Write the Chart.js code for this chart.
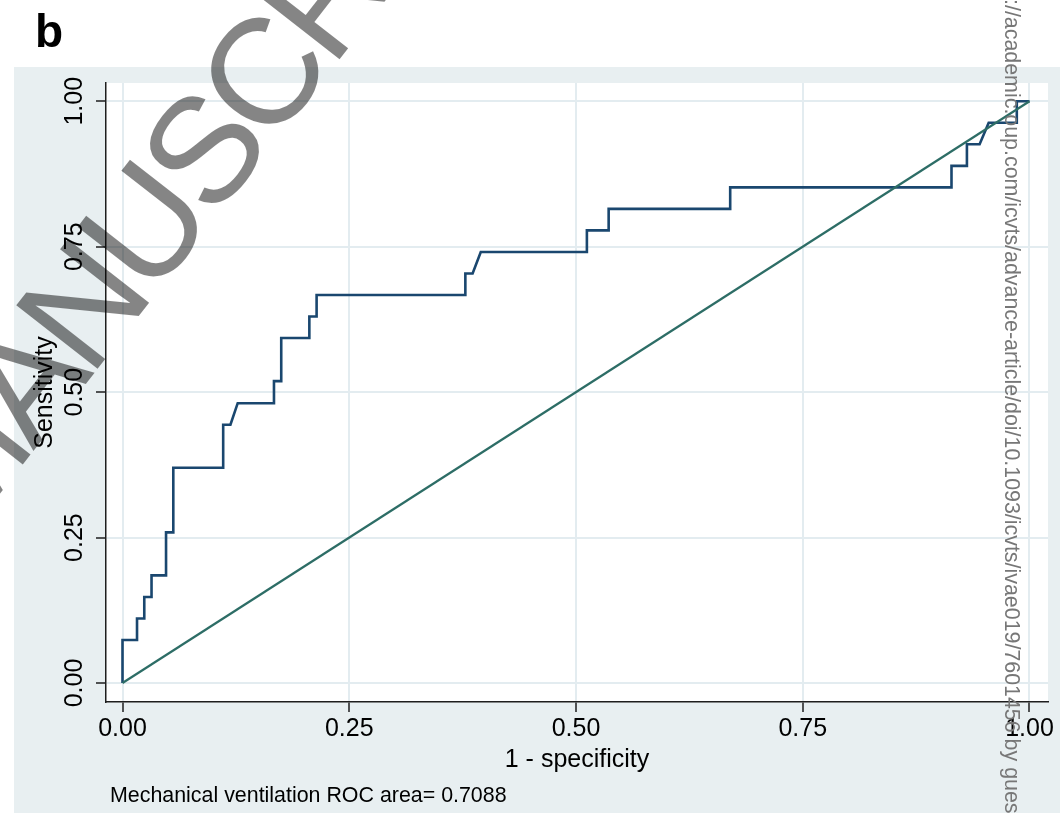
<!DOCTYPE html>
<html>
<head>
<meta charset="utf-8">
<script src="https://cdn.jsdelivr.net/npm/chart.js@4.4.1/dist/chart.umd.min.js"></script>
<style>
  html, body { margin: 0; padding: 0; background: #fff; }
  canvas { display: block; }
</style>
</head>
<body>
<canvas id="roc" width="1060" height="813"></canvas>
<script>
/* ---------- Data ---------- */
const fpr = [0, 0, 0.016, 0.016, 0.024, 0.024, 0.032, 0.032, 0.048, 0.048, 0.056, 0.056,
    0.111, 0.111, 0.119, 0.127, 0.167, 0.167, 0.175, 0.175, 0.206, 0.206, 0.214, 0.214,
    0.378, 0.378, 0.386, 0.395, 0.512, 0.512, 0.536, 0.536, 0.670, 0.670, 0.914, 0.914,
    0.931, 0.931, 0.945, 0.955, 0.986, 0.986, 1];
const sens = [0, 0.074, 0.074, 0.111, 0.111, 0.148, 0.148, 0.185, 0.185, 0.259, 0.259, 0.370,
    0.370, 0.444, 0.444, 0.481, 0.481, 0.519, 0.519, 0.593, 0.593, 0.630, 0.630, 0.667,
    0.667, 0.704, 0.704, 0.741, 0.741, 0.778, 0.778, 0.815, 0.815, 0.852, 0.852, 0.889,
    0.889, 0.926, 0.926, 0.963, 0.963, 1, 1];
const refX = [0, 1];
const refY = [0, 1];
const xTicks = [0, 0.25, 0.5, 0.75, 1];
const yTicks = [0, 0.25, 0.5, 0.75, 1];

const xTitle = '1 - specificity';
const yTitle = 'Sensitivity';
const note = 'Mechanical ventilation ROC area= 0.7088';
const panel = 'b';
const stamp = 'ACCEPTED MANUSCRIPT';
const url = 'Downloaded from https://academic.oup.com/icvts/advance-article/doi/10.1093/icvts/ivae019/7601456 by guest';

const FONT = '"Liberation Sans", Arial, Helvetica, sans-serif';
const GRID = '#e3ecf0';
const AXIS = '#1e1e1e';

/* ---------- Helpers ---------- */
function pairs(xs, ys) {
    return xs.map((x, i) => ({ x: x, y: ys[i] }));
}

/* ---------- Decorations ---------- */
const decor = {
    id: 'decor',
    beforeDraw(chart) {
        const ctx = chart.ctx;
        const a = chart.chartArea;
        ctx.save();
        ctx.fillStyle = '#e8eff1';
        ctx.fillRect(14, 67, chart.width - 14, chart.height - 67);
        ctx.fillStyle = '#ffffff';
        ctx.fillRect(a.left, a.top, a.right - a.left, a.bottom - a.top);
        ctx.restore();
    },
    afterDraw(chart) {
        const ctx = chart.ctx;
        ctx.save();

        // panel letter
        ctx.fillStyle = '#000';
        ctx.font = 'bold 46px ' + FONT;
        ctx.textBaseline = 'alphabetic';
        ctx.textAlign = 'left';
        ctx.fillText(panel, 35, 47);

        // footnote
        ctx.font = '21.4px ' + FONT;
        ctx.fillText(note, 110, 802);

        // side url
        ctx.save();
        ctx.translate(1011, 0);
        ctx.rotate(Math.PI / 2);
        ctx.font = '21.4px ' + FONT;
        ctx.fillStyle = '#777';
        ctx.textBaseline = 'middle';
        const pre = ctx.measureText('Downloaded from https').width;
        ctx.fillText(url, -1 - pre, 0);
        ctx.restore();

        // watermark
        ctx.save();
        const size = 150;
        const gap = -8;
        ctx.font = size + 'px ' + FONT;
        ctx.letterSpacing = gap + 'px';
        ctx.translate(202, 148);
        ctx.rotate(-52 * Math.PI / 180);
        const off = ctx.measureText('ACCEPTED MANU').width + (ctx.measureText('S').width - gap) / 2;
        ctx.fillStyle = 'rgba(0,0,0,0.48)';
        ctx.textBaseline = 'alphabetic';
        ctx.fillText(stamp, -off, 0.716 * size / 2);
        ctx.restore();

        ctx.restore();
    }
};

/* ---------- Chart ---------- */
const axisFont = { family: FONT, size: 25 };

new Chart(document.getElementById('roc').getContext('2d'), {
    type: 'scatter',
    data: {
        datasets: [
            {
                data: pairs(fpr, sens),
                showLine: true,
                borderColor: '#1a476f',
                borderWidth: 2.6,
                pointRadius: 0,
                fill: false,
                order: 1
            },
            {
                data: pairs(refX, refY),
                showLine: true,
                borderColor: '#2d6d66',
                borderWidth: 2.2,
                pointRadius: 0,
                fill: false,
                order: 0
            }
        ]
    },
    options: {
        responsive: false,
        animation: false,
        layout: { padding: { left: 0, right: 12, top: 83, bottom: 0 } },
        plugins: { legend: { display: false }, tooltip: { enabled: false } },
        scales: {
            x: {
                type: 'linear',
                min: -0.0182,
                max: 1.0204,
                afterBuildTicks: s => { s.ticks = xTicks.map(v => ({ value: v })); },
                afterFit: s => { s.height = 111; },
                ticks: {
                    callback: v => Number(v).toFixed(2),
                    font: axisFont,
                    color: '#000',
                    padding: 2,
                    maxRotation: 0
                },
                grid: { color: GRID, lineWidth: 2, tickColor: AXIS, tickLength: 10, tickWidth: 1.5 },
                border: { display: true, color: AXIS, width: 1.5 },
                title: { display: true, text: xTitle, font: axisFont, color: '#000', padding: { top: 0, bottom: 38 } }
            },
            y: {
                type: 'linear',
                min: -0.0326,
                max: 1.0314,
                afterBuildTicks: s => { s.ticks = yTicks.map(v => ({ value: v })); },
                afterFit: s => { s.width = 106; },
                ticks: {
                    callback: v => Number(v).toFixed(2),
                    font: axisFont,
                    color: '#000',
                    minRotation: 90,
                    maxRotation: 90,
                    crossAlign: 'center',
                    padding: -3
                },
                grid: { color: GRID, lineWidth: 2, tickColor: AXIS, tickLength: 10, tickWidth: 1.5 },
                border: { display: true, color: AXIS, width: 1.5 },
                title: { display: true, text: yTitle, font: axisFont, color: '#000', padding: { top: 30, bottom: 0 } }
            }
        }
    },
    plugins: [decor]
});
</script>
</body>
</html>
